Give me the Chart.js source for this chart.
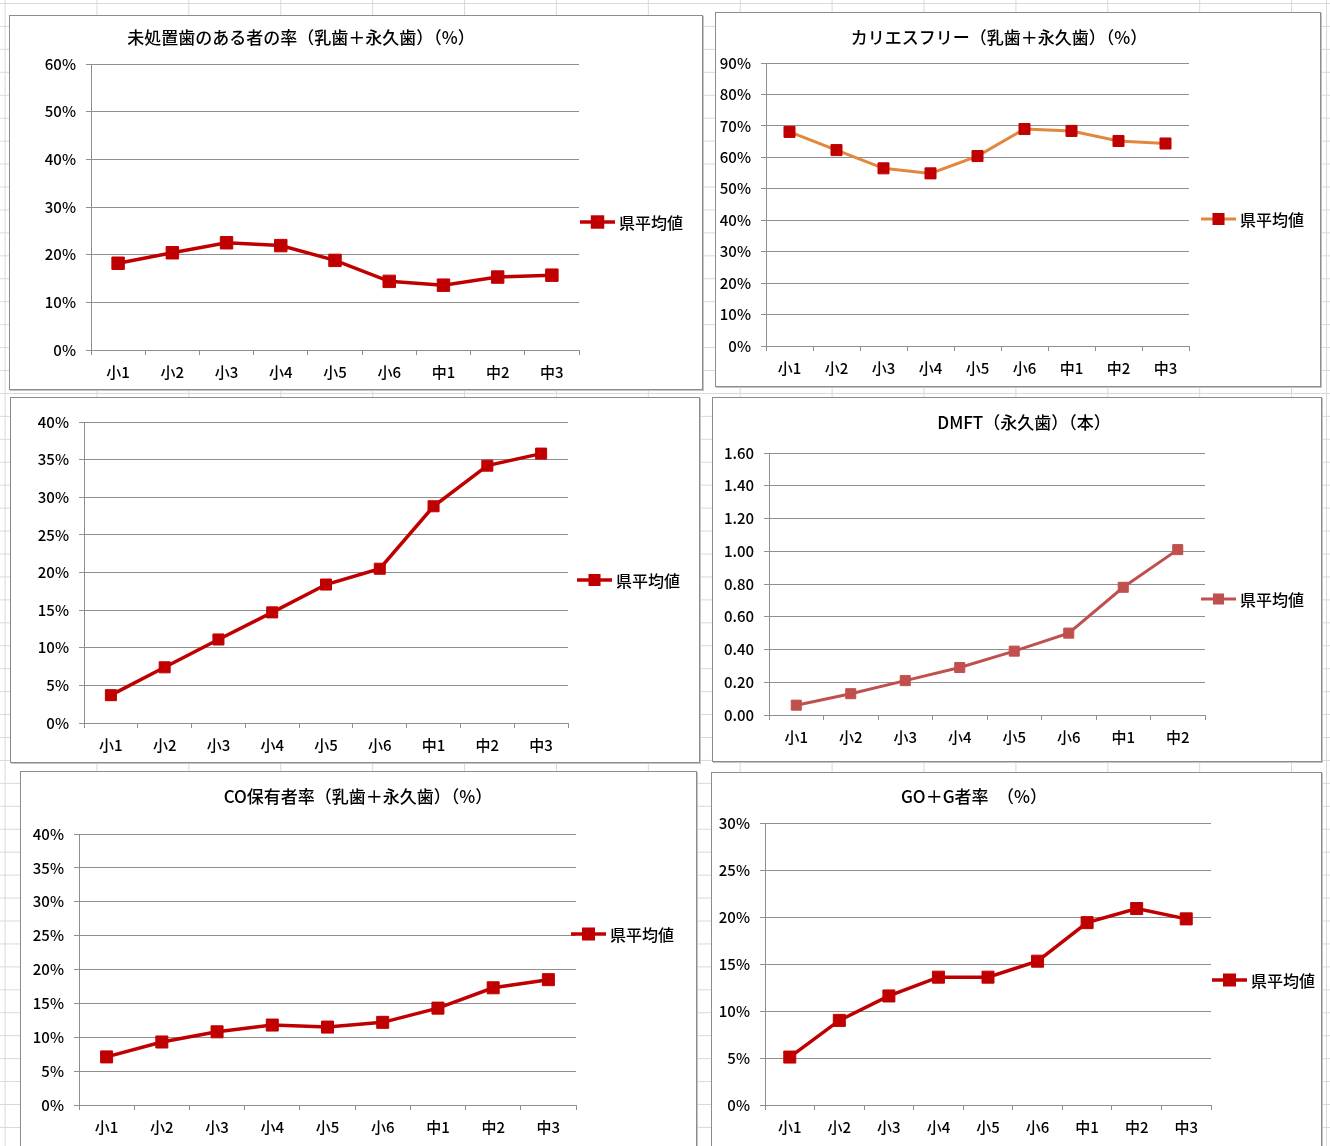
<!DOCTYPE html>
<html lang="ja">
<head>
<meta charset="utf-8">
<title>県平均値</title>
<script src="https://cdn.jsdelivr.net/npm/chart.js@4.4.1/dist/chart.umd.min.js"></script>
<style>
  html, body { margin: 0; padding: 0; }
  body {
    width: 1330px;
    height: 1146px;
    overflow: hidden;
    position: relative;
    background-color: #fff;
    background-image:
      linear-gradient(to right, #d9d9d9 1px, transparent 1px),
      linear-gradient(to bottom, #d9d9d9 1px, transparent 1px);
    background-size: 91.9px 22.95px;
    background-position: 4.6px 3px;
  }
  .edge { position: absolute; left: 1326px; top: 0; width: 1px; height: 1146px; background: #d9d9d9; }
  .box {
    position: absolute;
    box-sizing: border-box;
    background: #fff;
    border: 1px solid #8c8c8c;
    box-shadow: 1px 1px 0 #c4c4c4;
  }
  .box canvas { position: absolute; left: -1px; top: -1px; }
</style>
</head>
<body>
<div class="edge"></div>
<script>
// categories
const grades = ["小1", "小2", "小3", "小4", "小5", "小6", "中1", "中2", "中3"]
const gradesDmft = ["小1", "小2", "小3", "小4", "小5", "小6", "中1", "中2"]

// series (県平均値)
const untreatedRate = [18.2, 20.4, 22.5, 21.9, 18.8, 14.4, 13.6, 15.3, 15.7]
const cariesFreeRate = [68.1, 62.3, 56.5, 54.9, 60.4, 69.0, 68.4, 65.2, 64.4]
const thirdChartRate = [3.7, 7.4, 11.1, 14.7, 18.4, 20.5, 28.8, 34.2, 35.8]
const dmftValues = [0.06, 0.13, 0.21, 0.29, 0.39, 0.50, 0.78, 1.01]
const coRate = [7.1, 9.3, 10.8, 11.8, 11.5, 12.2, 14.3, 17.3, 18.5]
const goGRate = [5.1, 9.0, 11.6, 13.6, 13.6, 15.3, 19.4, 20.9, 19.8]

// axis ranges
const percentAxis60 = { max: 60, step: 10 }
const percentAxis90 = { max: 90, step: 10 }
const percentAxis40 = { max: 40, step: 5 }
const percentAxis30 = { max: 30, step: 5 }
const dmftAxis = { max: 1.6, step: 0.2 }

const legendLabel = "県平均値"

const RED = "#c00000"
const ORANGE = "#e3873c"
const BRICK = "#c0504d"
const GRID = "#8f8f8f"

Chart.defaults.font.family = '"Noto Sans CJK JP", "Noto Sans", sans-serif'
Chart.defaults.font.weight = "500"
Chart.defaults.color = "#000"
Chart.defaults.animation = false

const pct = (v) => v + "%"
const two = (v) => Number(v).toFixed(2)

// Title and legend are drawn by hand since Excel put them in odd spots
const decorPlugin = {
  id: "decor",
  afterDraw(chart, args, opts) {
    const ctx = chart.ctx
    ctx.save()
    if (opts.title) {
      ctx.font = '500 17px "Noto Sans CJK JP", sans-serif'
      ctx.fillStyle = "#000"
      ctx.textAlign = "center"
      ctx.textBaseline = "middle"
      ctx.fillText(opts.title.text, opts.title.x, opts.title.y)
    }
    if (opts.legend) {
      const ds = chart.data.datasets[0]
      const { x, y } = opts.legend
      ctx.strokeStyle = ds.borderColor
      ctx.lineWidth = ds.borderWidth
      ctx.beginPath()
      ctx.moveTo(x, y)
      ctx.lineTo(x + 35, y)
      ctx.stroke()
      const side = ds.pointRadius * Math.SQRT2 + 1
      ctx.fillStyle = ds.pointBackgroundColor
      ctx.fillRect(x + 17.5 - side / 2, y - side / 2, side, side)
      ctx.font = '500 16px "Noto Sans CJK JP", sans-serif'
      ctx.fillStyle = "#000"
      ctx.textAlign = "left"
      ctx.textBaseline = "middle"
      ctx.fillText(ds.label, x + 39, y + 1)
    }
    ctx.restore()
  },
}

function makeChart(box) {
  const div = document.createElement("div")
  div.className = "box"
  div.style.left = box.x + "px"
  div.style.top = box.y + "px"
  div.style.width = box.w + "px"
  div.style.height = box.h + "px"
  const canvas = document.createElement("canvas")
  canvas.width = box.w
  canvas.height = box.h
  canvas.style.width = box.w + "px"
  canvas.style.height = box.h + "px"
  div.appendChild(canvas)
  document.body.appendChild(div)

  return new Chart(canvas, {
    type: "line",
    data: {
      labels: box.labels,
      datasets: [
        {
          label: legendLabel,
          data: box.values,
          borderColor: box.line,
          borderWidth: box.width || 3.5,
          tension: 0,
          pointStyle: "rect",
          pointRadius: box.marker,
          pointBorderWidth: 1,
          pointBackgroundColor: box.point,
          pointBorderColor: box.point,
        },
      ],
    },
    options: {
      responsive: false,
      devicePixelRatio: 1,
      layout: { padding: { left: 0, top: box.t, right: box.r, bottom: 0 } },
      plugins: {
        legend: { display: false },
        tooltip: { enabled: false },
        decor: { title: box.title, legend: box.legend },
      },
      scales: {
        x: {
          offset: true,
          grid: { offset: true, drawOnChartArea: false, drawTicks: true, tickLength: 5, color: GRID },
          border: { color: GRID },
          ticks: { font: { size: 15 }, padding: 8, maxRotation: 0, autoSkip: false },
          afterFit: (s) => { s.height = box.b },
        },
        y: {
          min: 0,
          max: box.axis.max,
          grid: { color: GRID, tickLength: 5 },
          border: { color: GRID },
          ticks: { stepSize: box.axis.step, font: { size: 15 }, padding: 10, callback: box.fmt },
          afterFit: (s) => { s.width = box.l },
        },
      },
    },
    plugins: [decorPlugin],
  })
}

makeChart({
  x: 9, y: 15, w: 694, h: 375, l: 82, t: 49, r: 124, b: 40,
  labels: grades, values: untreatedRate, axis: percentAxis60, fmt: pct,
  line: RED, point: RED, marker: 8.8,
  title: { text: "未処置歯のある者の率（乳歯＋永久歯）（%）", x: 292, y: 23 },
  legend: { x: 571, y: 207 },
})

makeChart({
  x: 715, y: 12, w: 606, h: 375, l: 51, t: 51, r: 132, b: 41,
  labels: grades, values: cariesFreeRate, axis: percentAxis90, fmt: pct,
  line: ORANGE, point: RED, marker: 7.8, width: 3,
  title: { text: "カリエスフリー（乳歯＋永久歯）（%）", x: 284, y: 26 },
  legend: { x: 486, y: 207 },
})

makeChart({
  x: 10, y: 397, w: 690, h: 366, l: 74, t: 25, r: 132, b: 40,
  labels: grades, values: thirdChartRate, axis: percentAxis40, fmt: pct,
  line: RED, point: RED, marker: 7.8,
  title: null,
  legend: { x: 567, y: 183 },
})

makeChart({
  x: 712, y: 397, w: 610, h: 365, l: 57, t: 56, r: 117, b: 47,
  labels: gradesDmft, values: dmftValues, axis: dmftAxis, fmt: two,
  line: BRICK, point: BRICK, marker: 7.1, width: 3,
  title: { text: "DMFT（永久歯）（本）", x: 312, y: 26 },
  legend: { x: 489, y: 202 },
})

makeChart({
  x: 20, y: 771, w: 677, h: 400, l: 59, t: 63, r: 121, b: 66,
  labels: grades, values: coRate, axis: percentAxis40, fmt: pct,
  line: RED, point: RED, marker: 8.5,
  title: { text: "CO保有者率（乳歯＋永久歯）（%）", x: 338, y: 26 },
  legend: { x: 551, y: 163 },
})

makeChart({
  x: 711, y: 772, w: 611, h: 400, l: 54, t: 51, r: 111, b: 67,
  labels: grades, values: goGRate, axis: percentAxis30, fmt: pct,
  line: RED, point: RED, marker: 8.5,
  title: { text: "GO＋G者率　（%）", x: 263, y: 25 },
  legend: { x: 501, y: 208 },
})
</script>
</body>
</html>
